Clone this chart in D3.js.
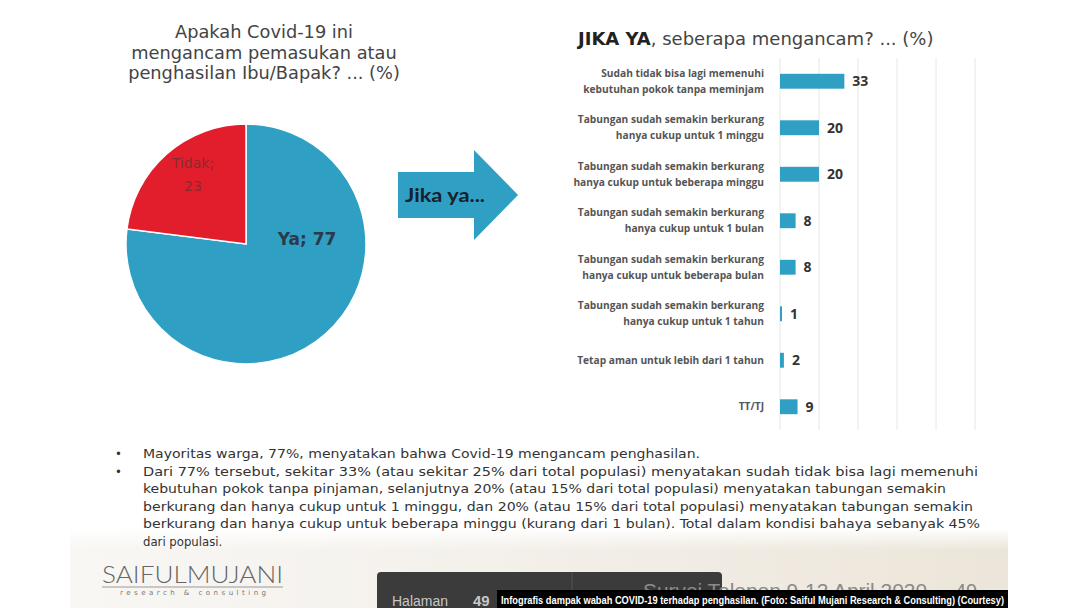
<!DOCTYPE html>
<html>
<head>
<meta charset="utf-8">
<script src="https://cdn.jsdelivr.net/npm/d3@7"></script>
<style>
  body { margin: 0; background: #fff; }
  svg { display: block; }
</style>
</head>
<body>
<div id="chart"></div>
<script>
// ---- data ----
const pieLabels = ["Ya", "Tidak"];
const pieValues = [77, 23];

const barCategories = [
  "Sudah tidak bisa lagi memenuhi\nkebutuhan pokok tanpa meminjam",
  "Tabungan sudah semakin berkurang\nhanya cukup untuk 1 minggu",
  "Tabungan sudah semakin berkurang\nhanya cukup untuk beberapa minggu",
  "Tabungan sudah semakin berkurang\nhanya cukup untuk 1 bulan",
  "Tabungan sudah semakin berkurang\nhanya cukup untuk beberapa bulan",
  "Tabungan sudah semakin berkurang\nhanya cukup untuk 1 tahun",
  "Tetap aman untuk lebih dari 1 tahun",
  "TT/TJ"
];
const barValues = [33, 20, 20, 8, 8, 1, 2, 9];
const gridTicks = [0, 20, 40, 60, 80, 100];

const pieTitle = ["Apakah Covid-19 ini", "mengancam pemasukan atau", "penghasilan Ibu/Bapak? ... (%)"];

const bullets = [
  ["Mayoritas warga, 77%, menyatakan bahwa Covid-19 mengancam penghasilan."],
  ["Dari 77% tersebut, sekitar 33% (atau sekitar 25% dari total populasi) menyatakan sudah tidak bisa lagi memenuhi",
   "kebutuhan pokok tanpa pinjaman, selanjutnya 20% (atau 15% dari total populasi) menyatakan tabungan semakin",
   "berkurang dan hanya cukup untuk 1 minggu, dan 20% (atau 15% dari total populasi) menyatakan tabungan semakin",
   "berkurang dan hanya cukup untuk beberapa minggu (kurang dari 1 bulan). Total dalam kondisi bahaya sebanyak 45%",
   "dari populasi."]
];
// widths the lines take up in the slide
const bulletWidths = [[557], [835, 803, 830, 837, null]];

const caption = "Infografis dampak wabah COVID-19 terhadap penghasilan. (Foto: Saiful Mujani Research & Consulting) (Courtesy)";

// ---- setup ----
const width = 1080, height = 608;
const blue = "#2f9fc3", red = "#e21e2c";

const svg = d3.select("#chart").append("svg")
  .attr("width", width).attr("height", height);

const defs = svg.append("defs");
const grad = defs.append("linearGradient").attr("id", "beige")
  .attr("x1", 0).attr("x2", 1).attr("y1", 0).attr("y2", 0);
grad.append("stop").attr("offset", 0).attr("stop-color", "#f8f7f4");
grad.append("stop").attr("offset", 0.35).attr("stop-color", "#f5f2ed");
grad.append("stop").attr("offset", 1).attr("stop-color", "#ece5d9");
const fade = defs.append("linearGradient").attr("id", "fadeTop")
  .attr("x1", 0).attr("x2", 0).attr("y1", 0).attr("y2", 1);
fade.append("stop").attr("offset", 0).attr("stop-color", "#fff").attr("stop-opacity", 1);
fade.append("stop").attr("offset", 1).attr("stop-color", "#fff").attr("stop-opacity", 0);
// slide footer text is hidden below the caption bar
defs.append("clipPath").attr("id", "aboveCaption")
  .append("rect").attr("x", 0).attr("y", 0).attr("width", width).attr("height", 590);

// bottom textured band of the slide
svg.append("rect")
  .attr("x", 70).attr("y", 530).attr("width", 938).attr("height", 78)
  .attr("fill", "url(#beige)");
svg.append("rect")
  .attr("x", 70).attr("y", 528).attr("width", 938).attr("height", 22)
  .attr("fill", "url(#fadeTop)");

// ============================
// Pie chart
// ============================
svg.append("g")
  .attr("font-family", "DejaVu Sans, Verdana, sans-serif")
  .attr("font-size", 17.8)
  .attr("fill", "#444")
  .attr("text-anchor", "middle")
  .selectAll("text")
  .data(pieTitle)
  .join("text")
  .attr("x", 264)
  .attr("y", (d, i) => 38 + i * 20.5)
  .text(d => d);

const pieData = d3.pie().sort(null)(pieValues);
const arc = d3.arc().innerRadius(0).outerRadius(120);

const pieG = svg.append("g").attr("transform", "translate(246,244)");
pieG.selectAll("path")
  .data(pieData)
  .join("path")
  .attr("d", arc)
  .attr("fill", (d, i) => i === 0 ? blue : red)
  .attr("stroke", "#fff")
  .attr("stroke-width", 1.5);

// "Ya; 77"
pieG.append("text")
  .attr("x", 61).attr("y", 1)
  .attr("text-anchor", "middle")
  .attr("font-family", "DejaVu Sans, sans-serif")
  .attr("font-weight", "bold")
  .attr("font-size", 17)
  .attr("fill", "#2b3a4a")
  .text(`${pieLabels[0]}; ${pieValues[0]}`);

// "Tidak; 23" on two lines
const tidak = pieG.append("text")
  .attr("text-anchor", "middle")
  .attr("font-family", "DejaVu Sans, sans-serif")
  .attr("font-size", 14)
  .attr("fill", "#8a2a2e");
tidak.append("tspan").attr("x", -53).attr("y", -76).text(`${pieLabels[1]};`);
tidak.append("tspan").attr("x", -53).attr("y", -53).text(pieValues[1]);

// ============================
// Arrow
// ============================
svg.append("path")
  .attr("d", "M398,172 L474,172 L474,150 L518,195 L474,240 L474,218 L398,218 Z")
  .attr("fill", blue);
svg.append("text")
  .attr("x", 405).attr("y", 202)
  .attr("font-family", "Lato, sans-serif")
  .attr("font-weight", "bold")
  .attr("font-size", 19)
  .attr("fill", "#16212b")
  .attr("textLength", 80)
  .attr("lengthAdjust", "spacingAndGlyphs")
  .text("Jika ya...");

// ============================
// Bar chart
// ============================
const xscale = d3.scaleLinear().domain([0, 100]).range([780, 975]);
const yscale = d3.scaleBand()
  .domain(barCategories)
  .range([58, 430])
  .paddingInner(0.68)
  .paddingOuter(0.34);

const barTitle = svg.append("text")
  .attr("x", 578).attr("y", 45)
  .attr("font-family", "DejaVu Sans, Verdana, sans-serif")
  .attr("font-size", 18)
  .attr("fill", "#444");
barTitle.append("tspan").attr("font-weight", "bold").attr("fill", "#222").text("JIKA YA");
barTitle.append("tspan").text(", seberapa mengancam? ... (%)");

svg.append("g")
  .attr("stroke", "#e6e6e6")
  .attr("stroke-width", 1)
  .selectAll("line")
  .data(gridTicks)
  .join("line")
  .attr("x1", d => xscale(d)).attr("x2", d => xscale(d))
  .attr("y1", 58).attr("y2", 430);

svg.append("g")
  .attr("fill", blue)
  .selectAll("rect")
  .data(barValues)
  .join("rect")
  .attr("x", xscale(0))
  .attr("y", (d, i) => yscale(barCategories[i]))
  .attr("width", d => Math.max(2, xscale(d) - xscale(0)))
  .attr("height", yscale.bandwidth());

svg.append("g")
  .attr("font-family", "Open Sans, sans-serif")
  .attr("font-weight", "bold")
  .attr("font-size", 14)
  .attr("fill", "#333")
  .selectAll("text")
  .data(barValues)
  .join("text")
  .attr("x", d => Math.max(xscale(d), xscale(0) + 2) + 8)
  .attr("y", (d, i) => yscale(barCategories[i]) + yscale.bandwidth() / 2)
  .attr("dy", "0.36em")
  .text(d => d);

const catLabels = svg.append("g")
  .attr("font-family", "Open Sans, sans-serif")
  .attr("font-weight", "bold")
  .attr("font-size", 10.2)
  .attr("fill", "#555")
  .attr("text-anchor", "end")
  .selectAll("text")
  .data(barCategories)
  .join("text")
  .attr("transform", d => `translate(764,${yscale(d) + yscale.bandwidth() / 2})`);

catLabels.each(function(d) {
  const lines = d.split("\n");
  d3.select(this).selectAll("tspan")
    .data(lines)
    .join("tspan")
    .attr("x", 0)
    .attr("y", (l, i) => (i - (lines.length - 1) / 2) * 16)
    .attr("dy", "0.35em")
    .text(l => l);
});

// ============================
// Bullet notes
// ============================
const notes = svg.append("g")
  .attr("font-family", "DejaVu Sans Condensed, DejaVu Sans, sans-serif")
  .attr("font-size", 13)
  .attr("fill", "#333");

let lineNo = 0;
bullets.forEach((para, p) => {
  notes.append("text")
    .attr("x", 115).attr("y", 458 + lineNo * 17.6)
    .text("•");
  para.forEach((line, j) => {
    const t = notes.append("text")
      .attr("x", 143).attr("y", 458 + lineNo * 17.6)
      .text(line);
    const w = bulletWidths[p][j];
    if (w) t.attr("textLength", w).attr("lengthAdjust", "spacingAndGlyphs");
    lineNo++;
  });
});

// ============================
// Footer: logo, page box, caption
// ============================
svg.append("text")
  .attr("x", 102).attr("y", 583)
  .attr("font-family", "Lato, sans-serif")
  .attr("font-weight", 300)
  .attr("font-size", 24)
  .attr("fill", "#666")
  .attr("textLength", 181)
  .attr("lengthAdjust", "spacingAndGlyphs")
  .text("SAIFULMUJANI");
svg.append("line")
  .attr("x1", 102).attr("x2", 283).attr("y1", 587).attr("y2", 587)
  .attr("stroke", "#999").attr("stroke-width", 1);
svg.append("text")
  .attr("x", 120).attr("y", 595)
  .attr("font-family", "DejaVu Sans, sans-serif")
  .attr("font-size", 7)
  .attr("fill", "#777")
  .attr("textLength", 146)
  .attr("lengthAdjust", "spacing")
  .text("research & consulting");

svg.append("path")
  .attr("d", "M377,608 L377,576 Q377,572 381,572 L718,572 Q722,572 722,576 L722,608 Z")
  .attr("fill", "#3b3b3b");
svg.append("line")
  .attr("x1", 572).attr("x2", 572).attr("y1", 572).attr("y2", 608)
  .attr("stroke", "#555");
svg.append("text")
  .attr("x", 392).attr("y", 606)
  .attr("font-family", "Liberation Sans, sans-serif")
  .attr("font-size", 14)
  .attr("fill", "#c8c8c8")
  .text("Halaman");
svg.append("text")
  .attr("x", 473).attr("y", 606)
  .attr("font-family", "Liberation Sans, sans-serif")
  .attr("font-weight", "bold")
  .attr("font-size", 15)
  .attr("fill", "#c8c8c8")
  .text("49");

const hidden = svg.append("g")
  .attr("clip-path", "url(#aboveCaption)")
  .attr("font-family", "Liberation Sans, sans-serif")
  .attr("font-size", 20)
  .attr("fill", "#8a8a8a");
hidden.append("text")
  .attr("x", 643).attr("y", 598)
  .attr("textLength", 284)
  .attr("lengthAdjust", "spacingAndGlyphs")
  .text("Survei Telepon 9-12 April 2020");
hidden.append("text")
  .attr("x", 955).attr("y", 598)
  .text("49");

svg.append("rect")
  .attr("x", 497).attr("y", 590).attr("width", 511).attr("height", 18)
  .attr("fill", "#000");
svg.append("text")
  .attr("x", 501).attr("y", 603.5)
  .attr("font-family", "Liberation Sans Narrow, Liberation Sans, sans-serif")
  .attr("font-weight", "bold")
  .attr("font-size", 11)
  .attr("fill", "#fff")
  .attr("textLength", 503)
  .attr("lengthAdjust", "spacingAndGlyphs")
  .text(caption);
</script>
</body>
</html>
